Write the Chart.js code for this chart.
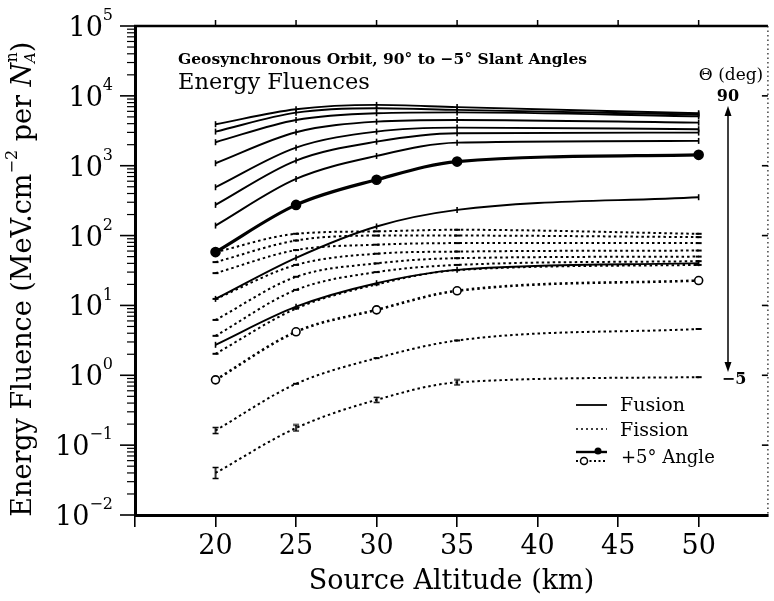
<!DOCTYPE html>
<html>
<head>
<meta charset="utf-8">
<script src="https://cdn.jsdelivr.net/npm/chart.js@4.4.1/dist/chart.umd.min.js"></script>
<style>
  html, body { margin: 0; padding: 0; background: #fff; }
</style>
</head>
<body>
<canvas id="chart" width="774" height="601"></canvas>
<script>
// source altitudes (km)
const altitudes = [20, 25, 30, 35, 50];

// fusion fluences, slant angle 90 deg down to -5 deg
const fusion1 = [3930, 6430, 7420, 6900, 5640];
const fusion2 = [3080, 5750, 6650, 6300, 5400];
const fusion3 = [2170, 4520, 5640, 5800, 5100];
const fusion4 = [1085, 3010, 4270, 4520, 4140];
const fusion5 = [492, 1815, 3080, 3510, 3330];
const fusion6 = [275, 1183, 2210, 2920, 2980];
const fusion7 = [139, 647, 1380, 2140, 2265];
const fusionPlus5 = [58, 275, 631, 1145, 1430];
const fusion0 = [12.4, 48, 135, 233, 354];
const fusionMinus5 = [2.73, 9.6, 20.8, 32.3, 40.3];

// fission fluences
const fission1 = [58, 106, 115, 121, 106];
const fission2 = [41.7, 85, 100, 100, 95];
const fission3 = [29, 62, 74, 78, 78];
const fission4 = [12.4, 38, 55, 59, 61];
const fission5 = [6.2, 25.7, 40, 47.5, 50];
const fission6 = [3.67, 16.7, 30, 38, 43];
const fission7 = [2.03, 9, 20, 32, 38];
const fissionPlus5 = [0.86, 4.19, 8.65, 16.2, 22.7];
const fission0 = [0.162, 0.755, 1.76, 3.15, 4.6];
const fissionMinus5 = [0.040, 0.176, 0.445, 0.79, 0.94];

const xTicks = [20, 25, 30, 35, 40, 45, 50];
const yDecades = [-2, -1, 0, 1, 2, 3, 4, 5];

const SERIF = '"DejaVu Serif", serif';

function pts(arr) {
    return altitudes.map((a, i) => ({ x: a, y: arr[i] }));
}

// little I shaped error bar used as a marker
function ibar(h) {
    const c = document.createElement('canvas');
    c.width = 8; c.height = h + 3;
    const g = c.getContext('2d');
    g.strokeStyle = '#000'; g.lineWidth = 1.6;
    g.beginPath();
    g.moveTo(1, 1.5); g.lineTo(7, 1.5);
    g.moveTo(4, 1.5); g.lineTo(4, h + 1.5);
    g.moveTo(1, h + 1.5); g.lineTo(7, h + 1.5);
    g.stroke();
    return c;
}

function fusionLine(arr) {
    return {
        data: pts(arr), borderColor: '#000', borderWidth: 1.9,
        pointStyle: 'line', pointRotation: 90, pointRadius: 3, pointBorderWidth: 1.6,
        pointBorderColor: '#000', cubicInterpolationMode: 'monotone', fill: false
    };
}
function fissionLine(arr) {
    return {
        data: pts(arr), borderColor: '#000', borderWidth: 2, borderDash: [2.5, 3],
        pointStyle: 'line', pointRadius: 3, pointBorderWidth: 2,
        pointBorderColor: '#000', cubicInterpolationMode: 'monotone', fill: false
    };
}

const datasets = [
    fusionLine(fusion1), fusionLine(fusion2), fusionLine(fusion3), fusionLine(fusion4),
    fusionLine(fusion5), fusionLine(fusion6), fusionLine(fusion7),
    Object.assign(fusionLine(fusionPlus5), { borderWidth: 3.2, pointStyle: 'circle', pointRadius: 4.5, pointBackgroundColor: '#000' }),
    fusionLine(fusion0), fusionLine(fusionMinus5),
    fissionLine(fission1), fissionLine(fission2), fissionLine(fission3), fissionLine(fission4),
    fissionLine(fission5), fissionLine(fission6), fissionLine(fission7),
    Object.assign(fissionLine(fissionPlus5), { borderWidth: 2.6, pointStyle: 'circle', pointRadius: 4, pointBorderWidth: 1.6, pointBackgroundColor: '#fff' }),
    Object.assign(fissionLine(fission0), { pointStyle: [ibar(6), 'line', 'line', 'line', 'line'] }),
    Object.assign(fissionLine(fissionMinus5), { pointStyle: [ibar(11), ibar(6), ibar(5), ibar(5), 'line'] })
];

const decor = {
    id: 'decor',
    afterDraw(chart) {
        const ctx = chart.ctx;
        const a = chart.chartArea;
        const xs = chart.scales.x, ys = chart.scales.y;
        ctx.save();
        ctx.strokeStyle = '#000'; ctx.fillStyle = '#000';

        // top border with small ticks
        ctx.lineWidth = 2.5;
        ctx.beginPath(); ctx.moveTo(a.left - 1, a.top); ctx.lineTo(a.right, a.top); ctx.stroke();
        ctx.lineWidth = 1.5;
        xTicks.forEach(v => {
            const px = xs.getPixelForValue(v);
            ctx.beginPath(); ctx.moveTo(px, a.top); ctx.lineTo(px, a.top - 6); ctx.stroke();
        });

        // dotted right border
        ctx.setLineDash([1.5, 3]);
        ctx.lineWidth = 1.5; ctx.strokeStyle = '#444';
        ctx.beginPath(); ctx.moveTo(a.right, a.top); ctx.lineTo(a.right, a.bottom); ctx.stroke();
        ctx.setLineDash([]);
        ctx.strokeStyle = '#000';

        // log ticks on the left axis
        yDecades.forEach(k => {
            const py = ys.getPixelForValue(Math.pow(10, k));
            ctx.lineWidth = 1.6;
            ctx.beginPath(); ctx.moveTo(a.left - 15, py); ctx.lineTo(a.left, py); ctx.stroke();
            ctx.beginPath(); ctx.moveTo(a.right - 6, py); ctx.lineTo(a.right, py); ctx.stroke();
            if (k < 5) {
                ctx.lineWidth = 1.2;
                for (let m = 2; m <= 9; m++) {
                    const pm = ys.getPixelForValue(m * Math.pow(10, k));
                    ctx.beginPath(); ctx.moveTo(a.left - 8, pm); ctx.lineTo(a.left, pm); ctx.stroke();
                }
            }
            // label 10^k
            const exp = k < 0 ? '\u2212' + (-k) : String(k);
            ctx.textBaseline = 'middle';
            ctx.font = '16px ' + SERIF;
            const ew = ctx.measureText(exp).width;
            ctx.textAlign = 'left';
            ctx.fillText(exp, 113 - ew, py - 10);
            ctx.font = '27px ' + SERIF;
            ctx.textAlign = 'right';
            ctx.fillText('10', 113 - ew, py + 3);
        });

        // y axis title, rotated
        ctx.save();
        ctx.translate(24, 274);
        ctx.rotate(-Math.PI / 2);
        const parts = [
            ['Energy Fluence (MeV.cm', '27px ' + SERIF, 0],
            ['\u22122', '16px ' + SERIF, -11],
            [' per ', '27px ' + SERIF, 0],
            ['N', 'italic 27px ' + SERIF, 0],
            ['A', 'italic 15px ' + SERIF, 7],
            ['n', '16px ' + SERIF, -11],
            [')', '27px ' + SERIF, 0]
        ];
        let total = 0;
        parts.forEach(p => { ctx.font = p[1]; total += ctx.measureText(p[0]).width; });
        let cx = -total / 2;
        ctx.textAlign = 'left'; ctx.textBaseline = 'middle';
        parts.forEach((p, i) => {
            ctx.font = p[1];
            // superscript n sits above the subscript A
            if (i === 5) cx -= ctx.measureText('A').width * 0.9;
            ctx.fillText(p[0], cx, p[2]);
            cx += ctx.measureText(p[0]).width;
        });
        ctx.restore();

        // titles in the plot
        ctx.textAlign = 'left'; ctx.textBaseline = 'alphabetic';
        ctx.font = 'bold 15.5px ' + SERIF;
        ctx.fillText('Geosynchronous Orbit, 90\u00b0 to \u22125\u00b0 Slant Angles', 178, 64);
        ctx.font = '22.5px ' + SERIF;
        ctx.fillText('Energy Fluences', 178, 89);

        // slant angle arrow
        ctx.textAlign = 'center';
        ctx.font = '17px ' + SERIF;
        ctx.fillText('\u0398 (deg)', 731, 80);
        ctx.font = 'bold 16px ' + SERIF;
        ctx.fillText('90', 728, 101);
        ctx.fillText('\u22125', 734, 384);
        ctx.lineWidth = 1.5;
        ctx.beginPath(); ctx.moveTo(728, 112); ctx.lineTo(728, 366); ctx.stroke();
        ctx.beginPath();
        ctx.moveTo(728, 106); ctx.lineTo(724.5, 116); ctx.lineTo(731.5, 116); ctx.closePath(); ctx.fill();
        ctx.beginPath();
        ctx.moveTo(728, 372); ctx.lineTo(724.5, 362); ctx.lineTo(731.5, 362); ctx.closePath(); ctx.fill();

        // legend
        ctx.textAlign = 'left'; ctx.textBaseline = 'middle';
        ctx.font = '19px ' + SERIF;
        ctx.lineWidth = 1.8;
        ctx.beginPath(); ctx.moveTo(576, 405); ctx.lineTo(607, 405); ctx.stroke();
        ctx.fillText('Fusion', 620, 406);
        ctx.setLineDash([2, 3]); ctx.lineWidth = 1.6;
        ctx.beginPath(); ctx.moveTo(576, 429); ctx.lineTo(607, 429); ctx.stroke();
        ctx.setLineDash([]);
        ctx.fillText('Fission', 620, 431);
        ctx.lineWidth = 2.4;
        ctx.beginPath(); ctx.moveTo(576, 452); ctx.lineTo(607, 452); ctx.stroke();
        ctx.beginPath(); ctx.arc(598, 451, 3.5, 0, Math.PI * 2); ctx.fill();
        ctx.setLineDash([2, 2.5]); ctx.lineWidth = 2;
        ctx.beginPath(); ctx.moveTo(576, 461); ctx.lineTo(607, 461); ctx.stroke();
        ctx.setLineDash([]);
        ctx.fillStyle = '#fff'; ctx.lineWidth = 1.5;
        ctx.beginPath(); ctx.arc(584, 461, 3.5, 0, Math.PI * 2); ctx.fill(); ctx.stroke();
        ctx.fillStyle = '#000';
        ctx.font = '18px ' + SERIF;
        ctx.fillText('+5\u00b0 Angle', 621, 458);

        ctx.restore();
    }
};

new Chart(document.getElementById('chart'), {
    type: 'line',
    data: { datasets: datasets },
    options: {
        responsive: false,
        animation: false,
        devicePixelRatio: 1,
        layout: { padding: { top: 26, right: 2, left: 0, bottom: 0 } },
        plugins: { legend: { display: false }, tooltip: { enabled: false } },
        scales: {
            x: {
                type: 'linear', min: 15, max: 54.3,
                afterFit: (s) => { s.height = 86; },
                ticks: {
                    stepSize: 5, includeBounds: false, autoSkip: false, maxRotation: 0,
                    color: '#000', padding: 4, font: { family: SERIF, size: 27 },
                    callback: (v) => xTicks.includes(v) ? String(v) : ''
                },
                grid: { drawOnChartArea: false, drawTicks: true, tickLength: 12, color: '#000', lineWidth: 1.6 },
                border: { display: true, color: '#000', width: 3 },
                title: { display: true, text: 'Source Altitude (km)', color: '#000', font: { family: SERIF, size: 27 }, padding: { top: 0, bottom: 3 } }
            },
            y: {
                type: 'logarithmic', min: 0.01, max: 100000,
                afterFit: (s) => { s.width = 135; },
                ticks: { display: false },
                grid: { display: false },
                border: { display: true, color: '#000', width: 3 }
            }
        }
    },
    plugins: [decor]
});
</script>
</body>
</html>
